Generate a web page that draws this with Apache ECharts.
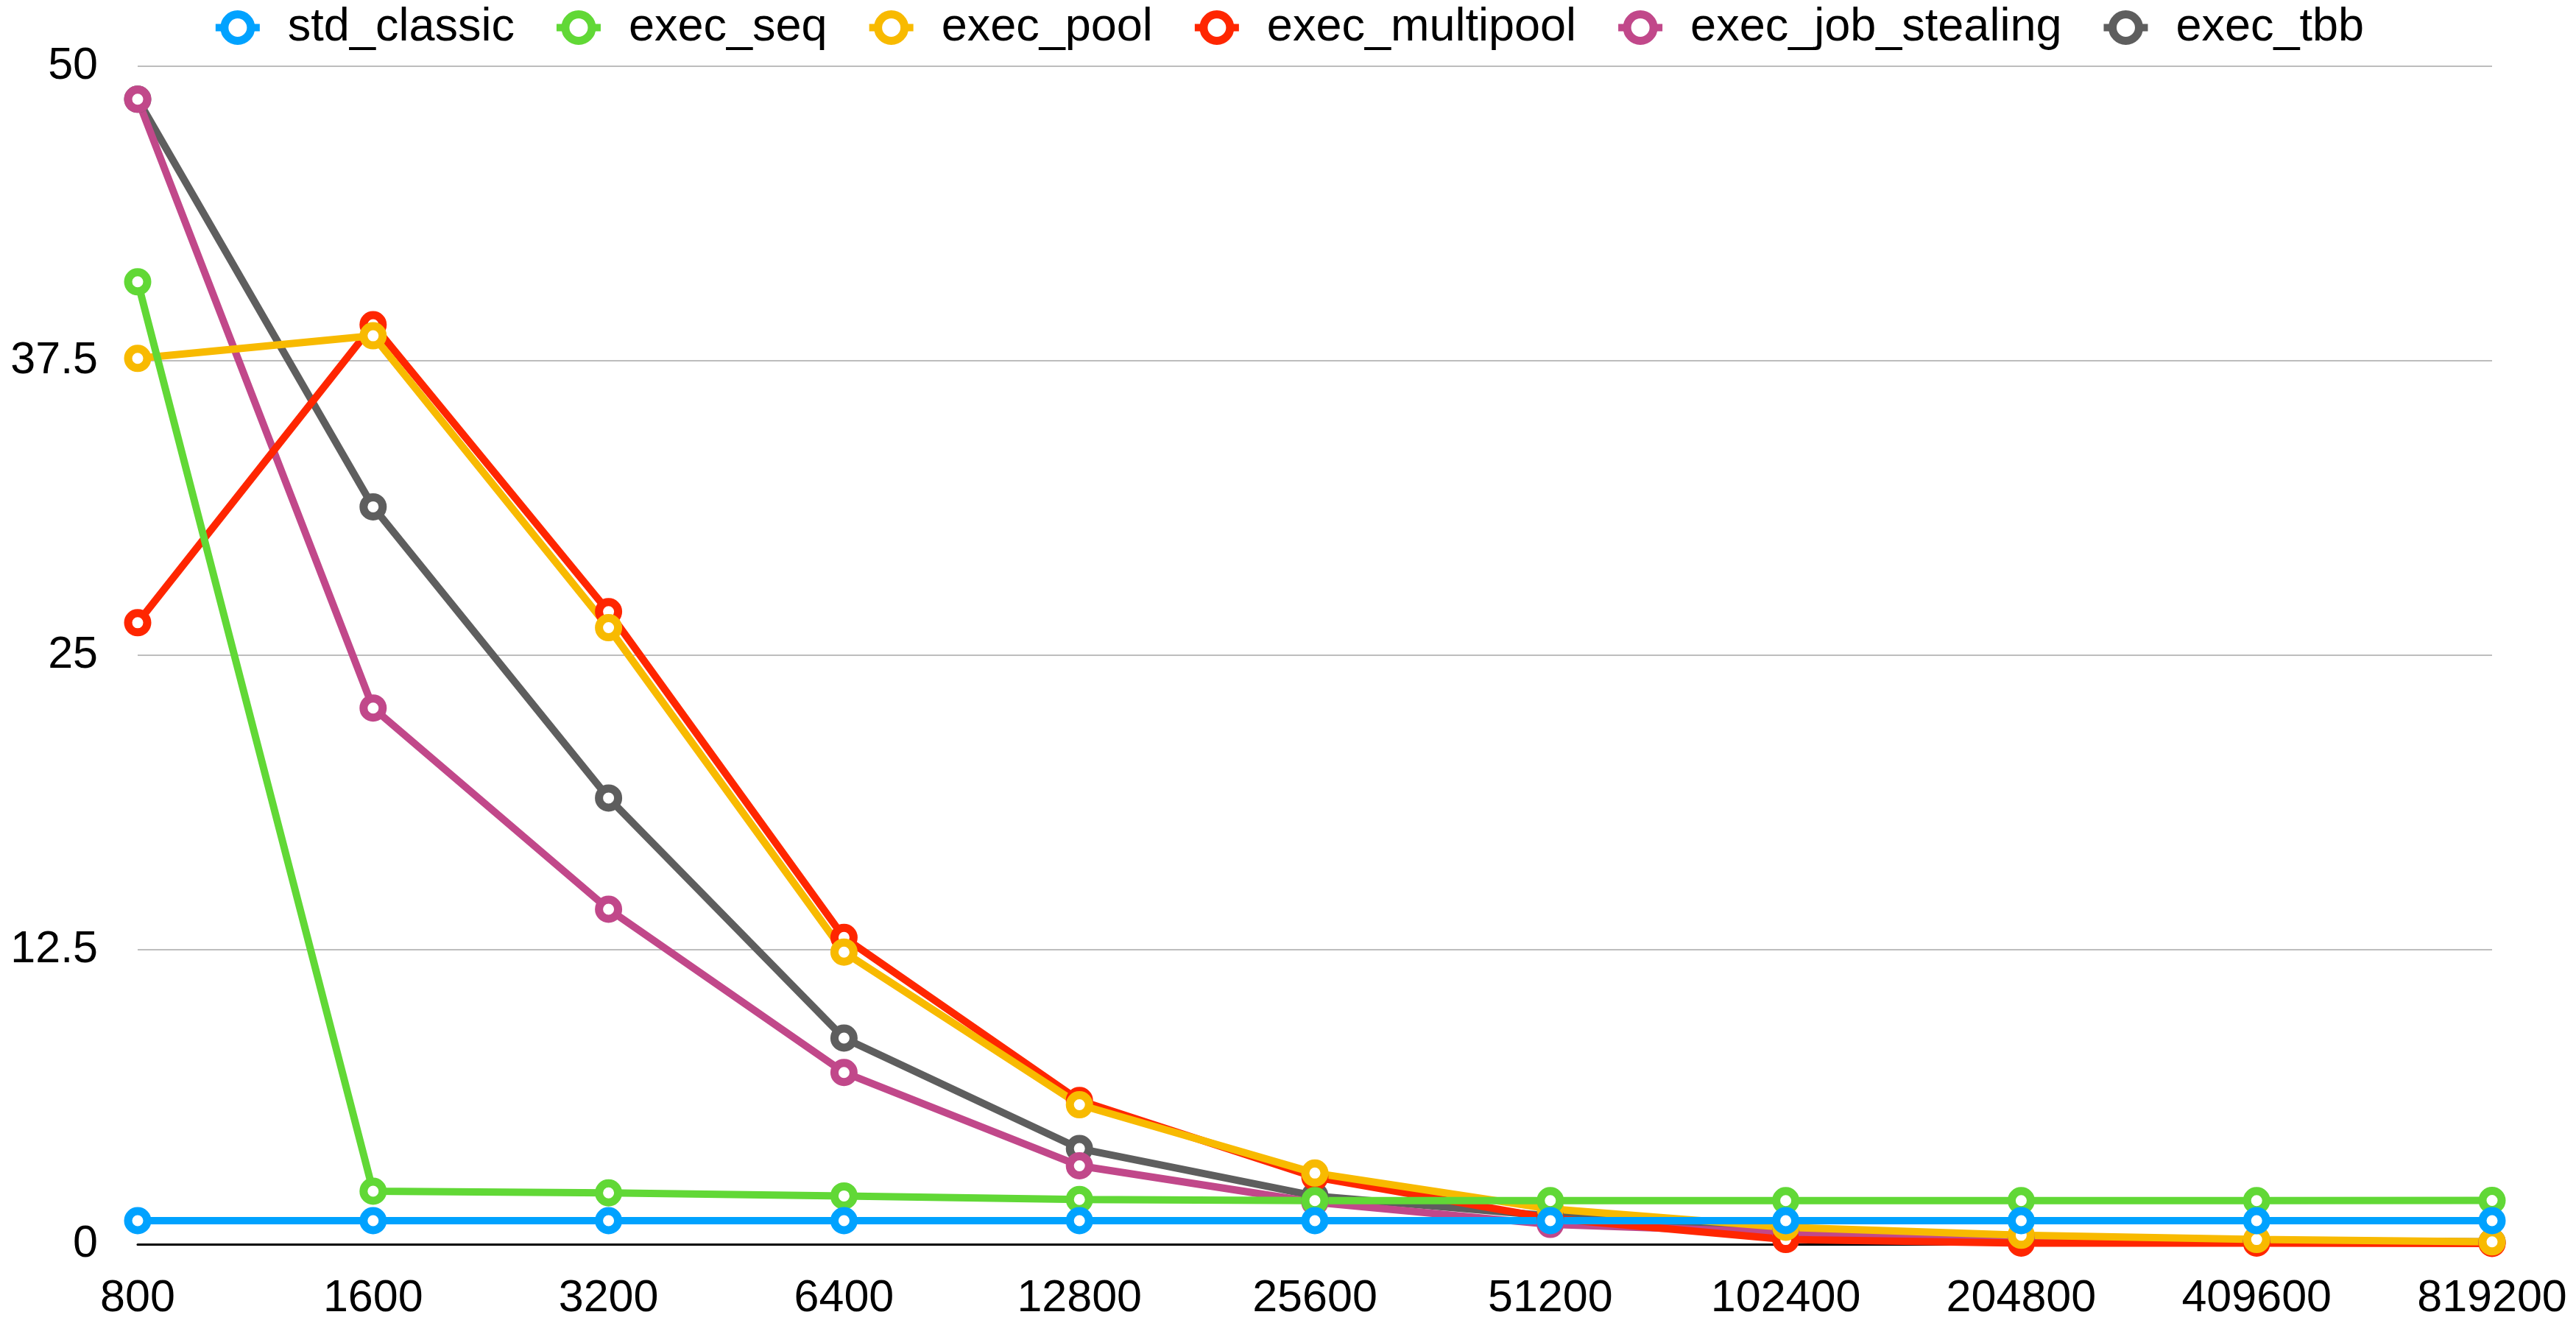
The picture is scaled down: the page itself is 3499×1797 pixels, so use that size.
<!DOCTYPE html>
<html>
<head>
<meta charset="utf-8">
<title>Executor benchmark</title>
<script src="https://cdn.jsdelivr.net/npm/echarts@6/dist/echarts.min.js"></script>
<style>
  html, body { margin: 0; padding: 0; background: #ffffff; }
  #chart { width: 3499px; height: 1797px; }
</style>
</head>
<body>
<div id="chart"></div>
<script>
// Problem sizes along the x axis
const sizes = ['800', '1600', '3200', '6400', '12800', '25600', '51200', '102400', '204800', '409600', '819200'];

// Measured values per implementation
const stdClassic      = [1.0, 1.0, 1.0, 1.0, 1.0, 1.0, 1.0, 1.0, 1.0, 1.0, 1.0];
const execSeq         = [40.85, 2.25, 2.18, 2.05, 1.9, 1.85, 1.85, 1.85, 1.85, 1.85, 1.86];
const execPool        = [37.6, 38.56, 26.17, 12.4, 5.92, 3.02, 1.5, 0.72, 0.38, 0.2, 0.1];
const execMultipool   = [26.38, 39.03, 26.85, 13.02, 6.1, 2.85, 1.1, 0.2, 0.05, 0.05, 0.03];
const execJobStealing = [48.6, 22.76, 14.22, 7.29, 3.33, 1.78, 0.84, 0.5, 0.3, 0.12, 0.08];
const execTbb         = [48.6, 31.3, 18.94, 8.75, 4.06, 2.05, 1.2, 0.55, 0.28, 0.15, 0.1];

const seriesNames = ['std_classic', 'exec_seq', 'exec_pool', 'exec_multipool', 'exec_job_stealing', 'exec_tbb'];
const seriesData  = [stdClassic, execSeq, execPool, execMultipool, execJobStealing, execTbb];
const seriesColors = ['#00A2FF', '#61D836', '#F8BA00', '#FF2600', '#C1488A', '#5E5E5E'];

const yTicks = { min: 0, max: 50, step: 12.5 };

const FONT = '"Liberation Sans", "Helvetica Neue", Arial, sans-serif';

// Later series paint over earlier ones, so build them in reverse
// (std_classic ends up on top, exec_tbb at the bottom).
const series = [];
for (let i = seriesNames.length - 1; i >= 0; i--) {
  series.push({
    name: seriesNames[i],
    type: 'line',
    data: seriesData[i],
    symbol: 'circle',
    symbolSize: 26,
    showAllSymbol: true,
    lineStyle: { color: seriesColors[i], width: 10 },
    itemStyle: { color: '#ffffff', borderColor: seriesColors[i], borderWidth: 11 },
    emphasis: { disabled: true },
    animation: false
  });
}

const chart = echarts.init(document.getElementById('chart'), null, { renderer: 'canvas' });
chart.setOption({
  backgroundColor: '#ffffff',
  animation: false,
  textStyle: { fontFamily: FONT },
  legend: {
    data: seriesNames,
    left: 'center',
    top: 1,
    itemWidth: 60,
    itemHeight: 45,
    itemGap: 52,
    itemStyle: { borderWidth: 11 },
    lineStyle: { width: 10 },
    textStyle: { fontFamily: FONT, fontSize: 63, color: '#000000', padding: [0, 0, 0, 33] }
  },
  grid: {
    left: 187,
    right: 114,
    top: 90,
    bottom: 107,
    containLabel: false,
    outerBoundsMode: 'none'
  },
  xAxis: {
    type: 'category',
    data: sizes,
    boundaryGap: false,
    axisLine: { show: true, lineStyle: { color: '#000000', width: 3 } },
    axisTick: { show: false },
    splitLine: { show: false },
    axisLabel: { fontFamily: FONT, fontSize: 61, color: '#000000', margin: 44, interval: 0 }
  },
  yAxis: {
    type: 'value',
    min: yTicks.min,
    max: yTicks.max,
    interval: yTicks.step,
    axisLine: { show: false },
    axisTick: { show: false },
    splitLine: { show: true, lineStyle: { color: '#bdbdbd', width: 2 } },
    axisLabel: { fontFamily: FONT, fontSize: 61, color: '#000000', margin: 54 }
  },
  series: series
});
</script>
</body>
</html>
